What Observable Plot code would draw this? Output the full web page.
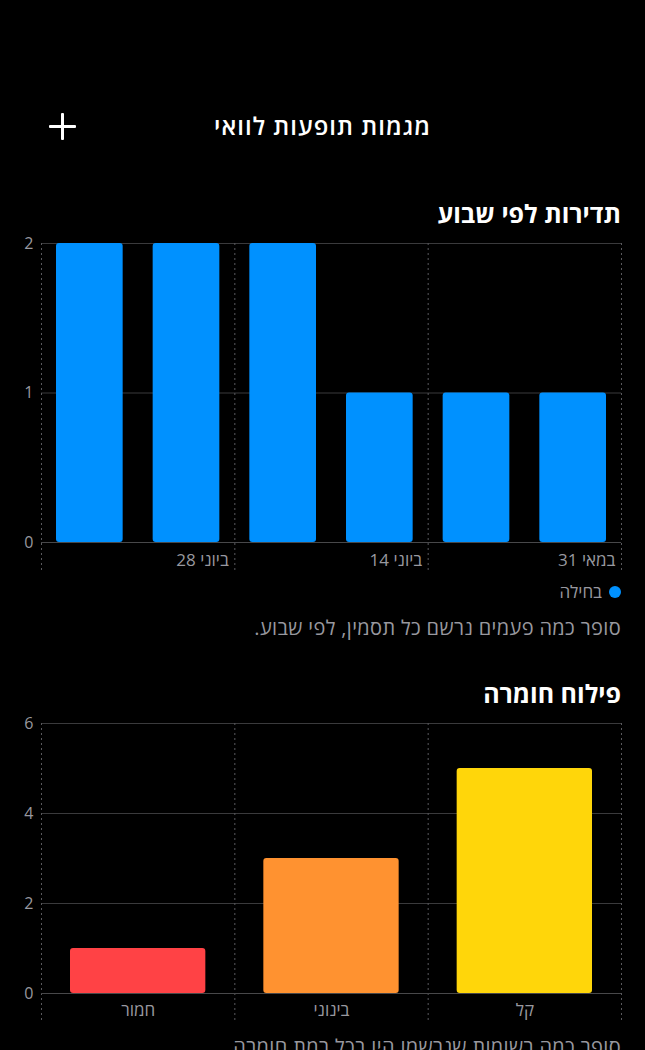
<!DOCTYPE html>
<html lang="he">
<head>
<meta charset="utf-8">
<script src="https://cdn.jsdelivr.net/npm/d3@7"></script>
<script src="https://cdn.jsdelivr.net/npm/@observablehq/plot@0.6"></script>
<style>
  html, body { margin: 0; padding: 0; background: #000; }
  body { width: 645px; height: 1050px; overflow: hidden; position: relative;
         font-family: "Open Sans", "Liberation Sans", "DejaVu Sans", sans-serif; color: #fff; }
  .abs { position: absolute; }
  .plus-h { left: 49px; top: 125px; width: 27px; height: 2.6px; background: #fff; border-radius: 1px; }
  .plus-v { left: 61.2px; top: 113px; width: 2.6px; height: 27px; background: #fff; border-radius: 1px; }
  .title { left: 0; width: 645px; top: 109px; text-align: center; font-size: 24px; letter-spacing: 1px; font-weight: 600; line-height: 34px; direction: rtl; }
  .section { right: 24px; font-size: 25px; font-weight: 700; line-height: 32px; direction: rtl; text-align: right; white-space: nowrap; }
  .caption { right: 24px; font-size: 20px; letter-spacing: 0.35px; color: #98989f; line-height: 28px; direction: rtl; text-align: right; white-space: nowrap; }
  .legend { right: 24px; top: 580px; font-size: 17px; color: #98989f; direction: rtl; display: flex; align-items: center; gap: 7px; line-height: 24px; }
  .dot { width: 12px; height: 12px; border-radius: 6px; background: #0091FF; display: inline-block; }
</style>
</head>
<body>
<div class="abs plus-h"></div>
<div class="abs plus-v"></div>
<div class="abs title" id="title"></div>
<div class="abs section" id="sec1" style="top:197px"></div>
<div class="abs" id="chart1" style="left:0; top:233px"></div>
<div class="abs legend" id="legend"></div>
<div class="abs caption" id="cap1" style="top:614px"></div>
<div class="abs section" id="sec2" style="top:677px"></div>
<div class="abs" id="chart2" style="left:0; top:713px"></div>
<div class="abs caption" id="cap2" style="top:1033px"></div>
<script>
// ---- texts ----
const screenTitle = "מגמות תופעות לוואי";
const weeklyTitle = "תדירות לפי שבוע";
const weeklyCaption = "סופר כמה פעמים נרשם כל תסמין, לפי שבוע.";
const severityTitle = "פילוח חומרה";
const severityCaption = "סופר כמה רשומות שנרשמו היו בכל רמת חומרה.";

// ---- weekly frequency data ----
const symptomName = "בחילה";
const symptomColor = "#0091FF";
const weekStarts = ["2025-05-31", "2025-06-07", "2025-06-14", "2025-06-21", "2025-06-28", "2025-07-05"];
const nauseaCounts = [1, 1, 1, 2, 2, 2];
const weeklyYTicks = [0, 1, 2];
const weekTickDates = ["2025-05-31", "2025-06-14", "2025-06-28"];
const weekTickLabels = ["31 במאי", "14 ביוני", "28 ביוני"];

// ---- severity data ----
const severityLevels = ["קל", "בינוני", "חמור"];
const severityCounts = [5, 3, 1];
const severityColors = ["#FFD60A", "#FF9230", "#FF4245"];
const severityYTicks = [0, 2, 4, 6];

document.getElementById("title").textContent = screenTitle;
document.getElementById("sec1").textContent = weeklyTitle;
document.getElementById("cap1").textContent = weeklyCaption;
document.getElementById("sec2").textContent = severityTitle;
document.getElementById("cap2").textContent = severityCaption;
const lg = document.getElementById("legend");
lg.innerHTML = '<span class="dot"></span><span></span>';
lg.lastChild.textContent = symptomName;

const fontFamily = '"Open Sans", "Liberation Sans", "DejaVu Sans", sans-serif';
const gray = "#98989f";
const gridColor = "#3a3a3c";
const dashColor = "#5a5a5e";

// ---- chart 1 ----
const weeks = weekStarts.map((d, i) => {
  const start = new Date(d);
  return {start, end: d3.utcDay.offset(start, 7), count: nauseaCounts[i]};
});
const xDomain1 = [weeks[0].start, weeks[weeks.length - 1].end];
const gridDates1 = weekTickDates.map(d => new Date(d)).concat([xDomain1[1]]);

const chart1 = Plot.plot({
  width: 645, height: 345,
  marginTop: 10, marginBottom: 36, marginLeft: 41, marginRight: 24,
  style: {background: "transparent", color: gray, fontSize: "16px", fontFamily},
  x: {type: "utc", domain: xDomain1, reverse: true, axis: null},
  y: {domain: [0, 2], axis: null},
  marks: [
    Plot.ruleY(weeklyYTicks, {stroke: gridColor, strokeWidth: 1}),
    Plot.ruleX(gridDates1, {stroke: dashColor, strokeDasharray: "2,3", insetBottom: -28}),
    Plot.rectY(weeks, {x1: "start", x2: "end", y: "count", fill: symptomColor, insetLeft: 15, insetRight: 15, rx: 3}),
    Plot.ruleY([0], {stroke: "#48484a"}),
    Plot.axisY(weeklyYTicks, {tickSize: 0, tickPadding: 8, fill: gray, fontSize: 16, label: null, tickFormat: d3.format("d")}),
    Plot.text(weekTickDates, {x: d => new Date(d), text: (d, i) => weekTickLabels[i], frameAnchor: "bottom",
      lineAnchor: "middle", dy: 18, dx: -6, textAnchor: "end", fill: gray, fontSize: 17})
  ]
});
document.getElementById("chart1").appendChild(chart1);

// ---- chart 2 ----
const severity = severityLevels.map((level, i) => ({level, i, count: severityCounts[i]}));
const n = severityLevels.length;
const chart2 = Plot.plot({
  width: 645, height: 317,
  marginTop: 10, marginBottom: 37, marginLeft: 41, marginRight: 24,
  style: {background: "transparent", color: gray, fontSize: "16px", fontFamily},
  x: {domain: [-0.5, n - 0.5], reverse: true, axis: null},
  y: {domain: [0, 6], axis: null},
  color: {domain: severityLevels, range: severityColors},
  marks: [
    Plot.ruleY(severityYTicks, {stroke: gridColor, strokeWidth: 1}),
    Plot.ruleX(d3.range(n + 1).map(i => i - 0.5), {stroke: dashColor, strokeDasharray: "2,3", insetBottom: -27}),
    Plot.rectY(severity, {x1: d => d.i - 0.5, x2: d => d.i + 0.5, y: "count", fill: "level", insetLeft: 29, insetRight: 29, rx: 3}),
    Plot.ruleY([0], {stroke: "#48484a"}),
    Plot.axisY(severityYTicks, {tickSize: 0, tickPadding: 8, fill: gray, fontSize: 16, label: null, tickFormat: d3.format("d")}),
    Plot.text(severity, {x: "i", text: "level", frameAnchor: "bottom", lineAnchor: "middle", dy: 17, fill: gray, fontSize: 17})
  ]
});
document.getElementById("chart2").appendChild(chart2);
</script>
</body>
</html>
